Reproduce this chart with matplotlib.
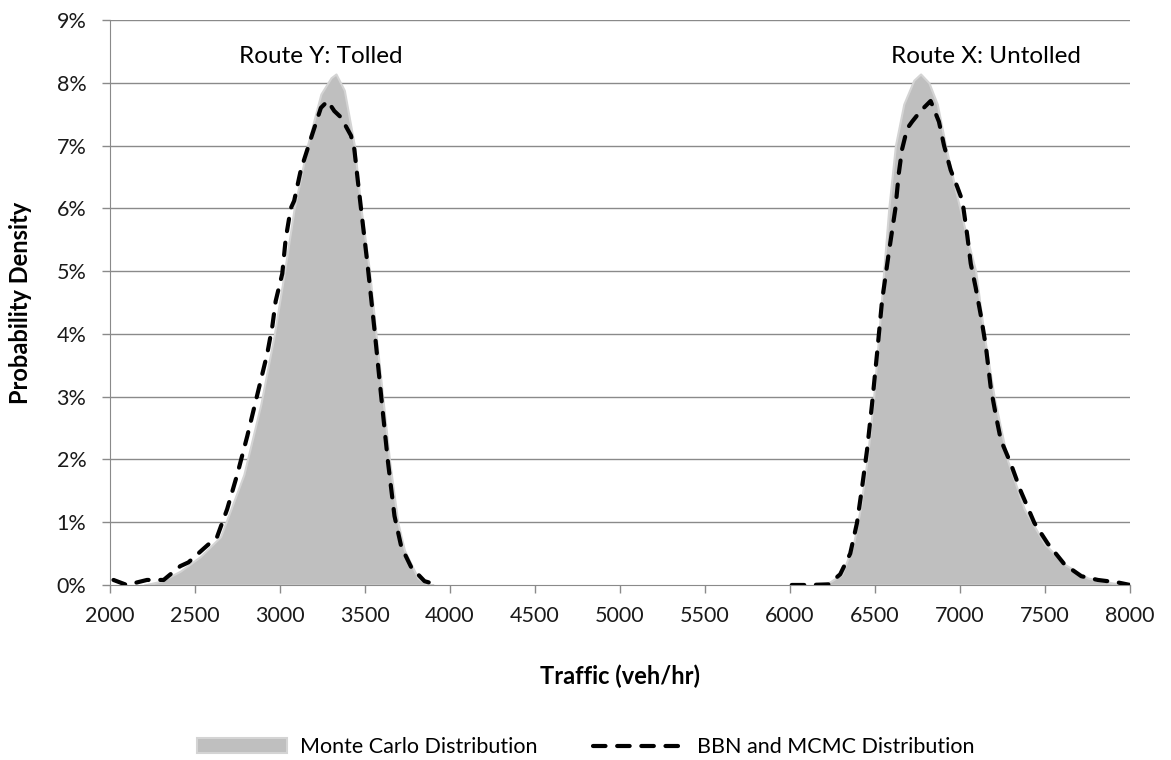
import numpy as np
import matplotlib.pyplot as plt
from matplotlib.ticker import FuncFormatter

plt.rcParams['font.family'] = ['Lato', 'DejaVu Sans']

# Monte Carlo distributions (percent), tolled route Y and untolled route X
mc_y_x = [2200, 2300, 2413, 2530, 2650, 2787, 2886, 2965, 3024, 3083, 3161, 3240, 3300, 3329,
          3378, 3437, 3476, 3526, 3565, 3604, 3644, 3693, 3732, 3811, 3870, 3900]
mc_y_p = [0.0, 0.06, 0.22, 0.45, 0.77, 1.76, 2.87, 3.97, 4.96, 6.0, 7.0, 7.82, 8.08, 8.14,
          7.88, 7.0, 6.0, 5.0, 3.98, 2.99, 1.98, 0.99, 0.55, 0.11, 0.0, 0.0]

mc_x_x = [6150, 6217, 6305, 6374, 6413, 6453, 6492, 6522, 6551, 6581, 6620, 6669, 6728, 6768,
          6817, 6866, 6915, 6984, 7043, 7092, 7142, 7201, 7280, 7378, 7496, 7614, 7752, 7900, 8000]
mc_x_p = [0.0, 0.02, 0.17, 0.66, 1.21, 1.98, 2.99, 3.98, 5.0, 6.0, 7.0, 7.66, 8.04, 8.14,
          8.0, 7.66, 7.0, 6.17, 5.51, 5.0, 3.98, 2.99, 1.98, 1.21, 0.66, 0.33, 0.11, 0.03, 0.01]

# BBN and MCMC results
bbn_y_x = [2020, 2098, 2217, 2315, 2413, 2461, 2551, 2630, 2689, 2748, 2807, 2866, 2925, 2955,
           2974, 3013, 3033, 3063, 3083, 3122, 3181, 3240, 3280, 3319, 3358, 3417, 3437, 3457,
           3476, 3516, 3555, 3594, 3634, 3673, 3713, 3772, 3850, 3929]
bbn_y_p = [0.08, 0.0, 0.08, 0.08, 0.3, 0.36, 0.58, 0.77, 1.21, 1.76, 2.37, 3.03, 3.69, 4.13,
           4.52, 4.96, 5.51, 6.0, 6.12, 6.61, 7.11, 7.6, 7.71, 7.55, 7.45, 7.16, 6.94, 6.45,
           6.0, 5.07, 4.08, 3.03, 1.98, 1.10, 0.61, 0.28, 0.06, 0.0]

bbn_x_x = [6010, 6118, 6226, 6295, 6354, 6394, 6423, 6453, 6482, 6512, 6541, 6581, 6620, 6640,
           6659, 6689, 6718, 6768, 6827, 6876, 6906, 6945, 6984, 7014, 7043, 7063, 7092, 7122,
           7152, 7181, 7211, 7240, 7299, 7358, 7437, 7516, 7614, 7713, 7811, 7929, 8000]
bbn_x_p = [0.0, 0.0, 0.01, 0.17, 0.5, 0.99, 1.54, 2.15, 2.87, 3.69, 4.52, 5.29, 6.0, 6.56,
           6.94, 7.27, 7.38, 7.55, 7.71, 7.38, 7.0, 6.61, 6.34, 6.12, 5.56, 5.12, 4.74, 4.3,
           3.8, 3.14, 2.7, 2.31, 1.93, 1.49, 0.99, 0.66, 0.33, 0.14, 0.08, 0.04, 0.0]

fig = plt.figure(figsize=(11.71, 7.6), dpi=100)
ax = fig.add_axes([0.094, 0.2303, 0.871, 0.7434])

grid_c = '#8a8a8a'
for y in range(1, 10):
    ax.axhline(y, color=grid_c, lw=1, zorder=0)

fill_c = '#bfbfbf'
ax.fill_between(mc_y_x, mc_y_p, color=fill_c, edgecolor='#d4d4d4', lw=1.5, zorder=1,
                label='Monte Carlo Distribution')
ax.fill_between(mc_x_x, mc_x_p, color=fill_c, edgecolor='#d4d4d4', lw=1.5, zorder=1)

dash = (0, (3.0, 2.8))
ax.plot(bbn_y_x, bbn_y_p, color='black', lw=3, ls=dash, dash_capstyle='round', zorder=3,
        label='BBN and MCMC Distribution')
ax.plot(bbn_x_x, bbn_x_p, color='black', lw=3, ls=dash, dash_capstyle='round', zorder=3)

ax.text(3240, 8.42, 'Route Y: Tolled', ha='center', va='center', fontsize=17.5)
ax.text(7150, 8.42, 'Route X: Untolled', ha='center', va='center', fontsize=17.5)

ax.set_xlim(2000, 8000)
ax.set_ylim(0, 9)
ax.set_xticks(np.arange(2000, 8001, 500))
ax.set_yticks(np.arange(0, 10, 1))
ax.yaxis.set_major_formatter(FuncFormatter(lambda v, p: '%d%%' % v))
ax.tick_params(axis='both', labelsize=15.5, colors=grid_c, labelcolor='#1a1a1a',
               length=6, width=1, direction='out')
ax.tick_params(axis='x', pad=9)
ax.tick_params(axis='y', pad=11)

for s in ['top', 'right']:
    ax.spines[s].set_visible(False)
for s in ['left', 'bottom']:
    ax.spines[s].set_color(grid_c)

ax.set_xlabel('Traffic (veh/hr)', fontsize=17, fontweight='bold', va='center')
ax.set_ylabel('Probability Density', fontsize=17, fontweight='bold', va='center')
ax.xaxis.set_label_coords(0.5, -0.161)
ax.yaxis.set_label_coords(-0.088, 0.5)

fig.legend(loc='center', bbox_to_anchor=(0.5, 0.017), ncol=2, frameon=False,
           fontsize=15.5, handlelength=4.2, columnspacing=2.6, handletextpad=0.6)

fig.savefig('out.png', dpi=100)
